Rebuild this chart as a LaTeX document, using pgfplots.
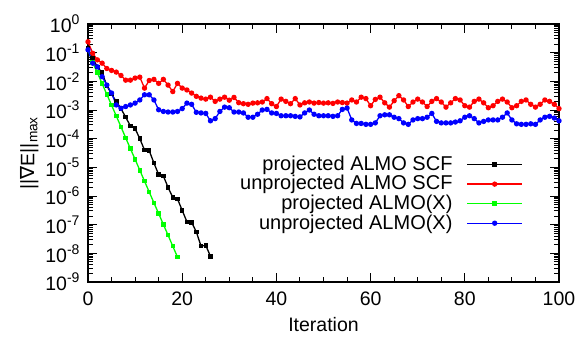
\documentclass[border=0pt]{standalone}
\usepackage{fontspec}
\setmainfont{Liberation Sans}
\newfontfamily\dejavu{DejaVu Sans}
\usepackage{pgfplots}
\pgfplotsset{compat=1.18}
\newcommand{\tp}[1]{10\raisebox{0.42em}{\fontsize{14}{15}\selectfont #1}}
\begin{document}
\fontsize{19}{23}\selectfont
\begin{tikzpicture}
\begin{axis}[
  scale only axis, width=471pt, height=258pt,
  ymode=log, xmin=0, xmax=100, ymin=1e-9, ymax=1,
  xtick={0,20,40,60,80,100}, minor x tick num=3,
  ytick={1e-9,1e-8,1e-7,1e-6,1e-5,1e-4,1e-3,1e-2,1e-1,1},
  yticklabels={\tp{-9},\tp{-8},\tp{-7},\tp{-6},\tp{-5},\tp{-4},\tp{-3},\tp{-2},\tp{-1},\tp{0}},
  /pgf/number format/assume math mode=true,
  tick align=inside, major tick length=9pt, minor tick length=5pt,
  every tick/.style={black, line width=1pt},
  axis line style={line width=1.4pt},
  ticklabel style={font=\fontsize{19.5}{21}\selectfont},
  xticklabel style={yshift=-3pt},
  yticklabel style={xshift=-2pt},
  xlabel={Iteration}, ylabel={||{\dejavu ∇}E||\textsubscript{max}},
  label style={font=\fontsize{19.5}{22}\selectfont},
  xlabel style={yshift=1pt},
  ylabel style={yshift=-6pt},
  legend style={draw=none, fill=none, at={(0.93,0.505)}, anchor=north east,
    font=\fontsize{20}{21}\selectfont, row sep=-1.8pt},
  legend cell align=right, legend plot pos=right,
  legend image code/.code={\path (0pt,0pt); \draw[#1] (12pt,0pt) -- (67pt,0pt); \draw[#1, only marks] plot coordinates {(39.5pt,0pt)};},
  every axis plot/.append style={line width=1.3pt},
]
\addplot[black, mark=square*, mark size=1.6pt] coordinates {
(0,1.41e-1)(1,6.3e-2)(2,3.16e-2)(3,2.0e-2)(4,7.1e-3)(5,3.55e-3)(6,2.0e-3)(7,1.12e-3)(8,5.6e-4)(9,2.8e-4)(10,2.24e-4)(11,1.0e-4)(12,4.0e-5)(13,3.8e-5)(14,1.41e-5)(15,5.6e-6)(16,5.0e-6)(17,2.0e-6)(18,8.9e-7)(19,7.9e-7)(20,3.16e-7)(21,1.26e-7)(22,1.2e-7)(23,5.6e-8)(24,1.78e-8)(25,1.9e-8)(26,7.9e-9)};
\addlegendentry{projected ALMO SCF}
\addplot[red, mark=*, mark size=2pt] coordinates {
(0,2.4e-1)(1,9.5e-2)(2,5.6e-2)(3,4.3e-2)(4,2.8e-2)(5,2.4e-2)(6,2.1e-2)(7,1.6e-2)(8,1.1e-2)(9,1.1e-2)(10,1.3e-2)(11,1.4e-2)(12,5.8e-3)(13,1.07e-2)(14,1.17e-2)(15,8.5e-3)(16,1.17e-2)(17,7.4e-3)(18,4.4e-3)(19,8.5e-3)(20,5.8e-3)(21,5.0e-3)(22,3.9e-3)(23,3.0e-3)(24,2.6e-3)(25,2.4e-3)(26,2.8e-3)(27,2.0e-3)(28,2.4e-3)(29,2.8e-3)(30,2.2e-3)(31,2.75e-3)(32,1.8e-3)(33,1.66e-3)(34,1.58e-3)(35,1.74e-3)(36,1.78e-3)(37,1.9e-3)(38,2.5e-3)(39,1.66e-3)(40,1.32e-3)(41,2.4e-3)(42,2.0e-3)(43,1.66e-3)(44,2.5e-3)(45,1.5e-3)(46,1.78e-3)(47,1.9e-3)(48,1.74e-3)(49,1.82e-3)(50,1.74e-3)(51,1.78e-3)(52,1.7e-3)(53,1.9e-3)(54,1.82e-3)(55,1.74e-3)(56,2.24e-3)(57,1.9e-3)(58,2.8e-3)(59,2.5e-3)(60,1.41e-3)(61,2.34e-3)(62,2.8e-3)(63,1.78e-3)(64,1.26e-3)(65,2.1e-3)(66,3.16e-3)(67,2.24e-3)(68,1.32e-3)(69,1.9e-3)(70,2.4e-3)(71,1.9e-3)(72,1.32e-3)(73,2.0e-3)(74,2.5e-3)(75,1.9e-3)(76,1.26e-3)(77,1.78e-3)(78,2.5e-3)(79,2.24e-3)(80,1.41e-3)(81,1.26e-3)(82,2.0e-3)(83,2.4e-3)(84,1.78e-3)(85,1.2e-3)(86,1.41e-3)(87,2.0e-3)(88,2.4e-3)(89,1.9e-3)(90,1.2e-3)(91,1.41e-3)(92,2.0e-3)(93,2.24e-3)(94,1.58e-3)(95,1.26e-3)(96,1.58e-3)(97,2.24e-3)(98,2.0e-3)(99,1.58e-3)(100,1.12e-3)};
\addlegendentry{unprojected ALMO SCF}
\addplot[green, mark=square*, mark size=1.6pt] coordinates {
(0,1.26e-1)(1,4.5e-2)(2,2.0e-2)(3,8.3e-3)(4,3.5e-3)(5,1.48e-3)(6,6.2e-4)(7,2.6e-4)(8,1.07e-4)(9,4.5e-5)(10,1.9e-5)(11,7.9e-6)(12,3.3e-6)(13,1.38e-6)(14,5.75e-7)(15,2.45e-7)(16,1.02e-7)(17,4.3e-8)(18,1.78e-8)(19,7.4e-9)};
\addlegendentry{projected ALMO(X)}
\addplot[blue, mark=*, mark size=2pt] coordinates {
(0,1.26e-1)(1,4.3e-2)(2,3.2e-2)(3,1.45e-2)(4,7.4e-3)(5,3.9e-3)(6,1.5e-3)(7,1.15e-3)(8,1.32e-3)(9,1.5e-3)(10,1.74e-3)(11,2.24e-3)(12,3.4e-3)(13,3.4e-3)(14,2.24e-3)(15,1.02e-3)(16,8.9e-4)(17,8.5e-4)(18,8.5e-4)(19,8.9e-4)(20,1.12e-3)(21,1.74e-3)(22,1.58e-3)(23,8.3e-4)(24,7.9e-4)(25,7.6e-4)(26,4.2e-4)(27,5.0e-4)(28,8.9e-4)(29,1.26e-3)(30,1.2e-3)(31,8.5e-4)(32,8.5e-4)(33,7.9e-4)(34,5.6e-4)(35,5.6e-4)(36,7.1e-4)(37,1.0e-3)(38,1.05e-3)(39,7.9e-4)(40,7.6e-4)(41,6.3e-4)(42,6.3e-4)(43,6.3e-4)(44,6.0e-4)(45,5.75e-4)(46,7.9e-4)(47,1.0e-3)(48,7.1e-4)(49,6.3e-4)(50,6.3e-4)(51,6.3e-4)(52,6.0e-4)(53,6.3e-4)(54,1.05e-3)(55,1.17e-3)(56,4.5e-4)(57,3.4e-4)(58,3.4e-4)(59,3.16e-4)(60,3.16e-4)(61,3.55e-4)(62,6.3e-4)(63,6.8e-4)(64,6.8e-4)(65,5.6e-4)(66,5.0e-4)(67,3.55e-4)(68,3.16e-4)(69,4.5e-4)(70,5.0e-4)(71,5.0e-4)(72,5.6e-4)(73,7.6e-4)(74,4.0e-4)(75,3.55e-4)(76,3.55e-4)(77,3.55e-4)(78,3.8e-4)(79,4.2e-4)(80,5.6e-4)(81,6.3e-4)(82,5.0e-4)(83,3.55e-4)(84,4.0e-4)(85,4.5e-4)(86,4.5e-4)(87,4.5e-4)(88,5.6e-4)(89,7.9e-4)(90,4.5e-4)(91,3.3e-4)(92,3.16e-4)(93,3.16e-4)(94,3.3e-4)(95,3.16e-4)(96,4.5e-4)(97,5.6e-4)(98,6.0e-4)(99,5.25e-4)(100,4.2e-4)};
\addlegendentry{unprojected ALMO(X)}
\end{axis}
\pgfresetboundingbox
\path (current axis.south west) ++(-88pt,-57pt) coordinate (bl);
\path (current axis.north east) ++(21pt,24pt) coordinate (tr);
\path (bl) rectangle (tr);
\end{tikzpicture}
\end{document}
